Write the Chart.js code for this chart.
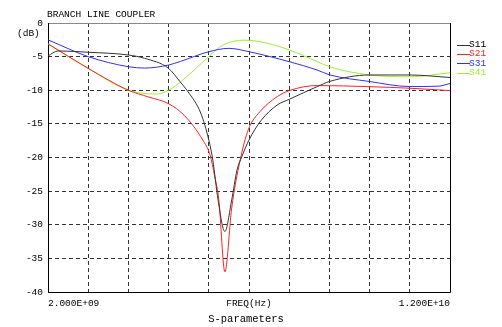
<!DOCTYPE html>
<html>
<head>
<meta charset="utf-8">
<script src="https://cdn.jsdelivr.net/npm/chart.js@4"></script>
<style>
  html, body { margin: 0; padding: 0; background: #fff; }
  #wrap { width: 502px; height: 327px; }
</style>
</head>
<body>
<div id="wrap"><canvas id="chart" width="502" height="327"></canvas></div>
<script>
// frequencies in GHz, values in dB
const s11Freq = [2, 2.25, 3, 4, 4.4, 5, 5.28, 5.48, 5.8, 6.0, 6.1, 6.23, 6.4, 6.57, 6.7, 6.82, 7.0, 7.3, 7.7, 8.0, 8.7, 9, 10, 11, 12];
const s11Db = [-4.9, -4.15, -4.35, -4.76, -5.25, -6.75, -8.7, -10.2, -13.4, -17.4, -20.4, -26.3, -31.0, -26.3, -21.9, -19.9, -17.4, -14.5, -12.2, -11.35, -9.45, -8.7, -7.73, -7.73, -8.1];

const s21Freq = [2, 3, 4, 4.5, 5, 5.4, 5.85, 6.03, 6.15, 6.25, 6.4, 6.57, 6.78, 6.98, 7.27, 7.7, 8.0, 8.7, 10, 11, 12];
const s21Db = [-3.1, -6.75, -10.0, -11.0, -12.0, -13.8, -17.4, -19.6, -22.9, -26.3, -37, -27.5, -20.4, -15.9, -13.2, -10.96, -10.06, -9.3, -9.47, -9.7, -10.05];

const s31Freq = [2, 3, 4, 4.4, 5, 5.3, 6, 6.5, 7, 8, 8.7, 9, 10, 11, 11.7, 12];
const s31Db = [-2.5, -5.0, -6.5, -6.7, -6.25, -5.7, -4.27, -3.77, -4.27, -5.75, -7.0, -7.7, -8.7, -9.45, -9.4, -9.0];

const s41Freq = [2, 3, 4, 4.7, 5, 5.35, 6, 6.35, 6.9, 7.45, 8, 8.7, 9, 10, 11, 12];
const s41Db = [-3.1, -6.75, -10.0, -10.55, -10.0, -8.5, -5.0, -3.3, -2.55, -3.0, -4.0, -5.75, -6.5, -7.73, -8.0, -7.4];

const seriesNames = ["S11", "S21", "S31", "S41"];
const seriesColors = ["#333333", "#ff2020", "#2f2fff", "#99f030"];
const xTickLabels = [
  { value: 2, text: "2.000E+09", align: "left" },
  { value: 7, text: "FREQ(Hz)", align: "center" },
  { value: 12, text: "1.200E+10", align: "right" },
];

const mono = "'Liberation Mono', 'DejaVu Sans Mono', monospace";

function toPoints(xs, ys) {
  return xs.map((x, i) => ({ x: x, y: ys[i] }));
}

const dataSets = [
  toPoints(s11Freq, s11Db),
  toPoints(s21Freq, s21Db),
  toPoints(s31Freq, s31Db),
  toPoints(s41Freq, s41Db),
];

const extras = {
  id: "extras",
  beforeDatasetsDraw(chart) {
    const ctx = chart.ctx;
    const a = chart.chartArea;
    ctx.save();
    ctx.lineWidth = 1;
    ctx.strokeStyle = "#888";
    ctx.beginPath();
    ctx.moveTo(a.left, a.top + 0.5);
    ctx.lineTo(a.right, a.top + 0.5);
    ctx.stroke();
    ctx.strokeStyle = "#000";
    ctx.beginPath();
    ctx.moveTo(a.left + 0.5, a.top);
    ctx.lineTo(a.left + 0.5, a.bottom + 0.5);
    ctx.lineTo(a.right + 0.5, a.bottom + 0.5);
    ctx.lineTo(a.right + 0.5, a.top);
    ctx.stroke();
    ctx.restore();
  },
  afterDraw(chart) {
    const ctx = chart.ctx;
    const a = chart.chartArea;
    const xs = chart.scales.x;
    ctx.save();
    ctx.fillStyle = "#000";
    ctx.textBaseline = "middle";
    ctx.font = "9.5px " + mono;
    ctx.textAlign = "left";
    ctx.fillText("BRANCH LINE COUPLER", 47, 14);
    ctx.fillText("(dB)", 17, 33);

    xTickLabels.forEach((t) => {
      ctx.textAlign = t.align;
      ctx.fillText(t.text, xs.getPixelForValue(t.value), a.bottom + 11);
    });

    ctx.font = "10.5px " + mono;
    ctx.textAlign = "center";
    ctx.fillText("S-parameters", (a.left + a.right) / 2 - 3, a.bottom + 27);

    // legend
    ctx.font = "9.5px " + mono;
    ctx.textAlign = "left";
    seriesNames.forEach((name, i) => {
      const y = 44.5 + i * 9.4;
      ctx.strokeStyle = seriesColors[i];
      ctx.lineWidth = 1;
      ctx.beginPath();
      ctx.moveTo(457, Math.round(y) + 0.5);
      ctx.lineTo(470, Math.round(y) + 0.5);
      ctx.stroke();
      ctx.fillStyle = i === 0 ? "#000" : seriesColors[i];
      ctx.fillText(name, 469, y);
    });
    ctx.restore();
  },
};

new Chart(document.getElementById("chart"), {
  type: "line",
  data: {
    datasets: dataSets.map((pts, i) => ({
      label: seriesNames[i],
      data: pts,
      borderColor: seriesColors[i],
      backgroundColor: seriesColors[i],
      borderWidth: 1,
      pointRadius: 0,
      cubicInterpolationMode: "monotone",
      fill: false,
    })),
  },
  options: {
    responsive: false,
    animation: false,
    layout: { padding: { top: 23, right: 52, left: 0, bottom: 0 } },
    plugins: {
      legend: { display: false },
      tooltip: { enabled: false },
      title: { display: false },
    },
    scales: {
      x: {
        type: "linear",
        min: 2,
        max: 12,
        ticks: { display: false, stepSize: 1 },
        border: { display: false, dash: [4, 3] },
        grid: { color: "#333", lineWidth: 1, drawTicks: false },
        afterFit(scale) {
          scale.height = 35;
        },
      },
      y: {
        min: -40,
        max: 0,
        ticks: {
          stepSize: 5,
          color: "#000",
          padding: 5,
          font: { family: mono, size: 9.5 },
        },
        border: { display: false, dash: [4, 3] },
        grid: { color: "#333", lineWidth: 1, drawTicks: false },
        afterFit(scale) {
          scale.width = 48;
        },
      },
    },
  },
  plugins: [extras],
});
</script>
</body>
</html>
